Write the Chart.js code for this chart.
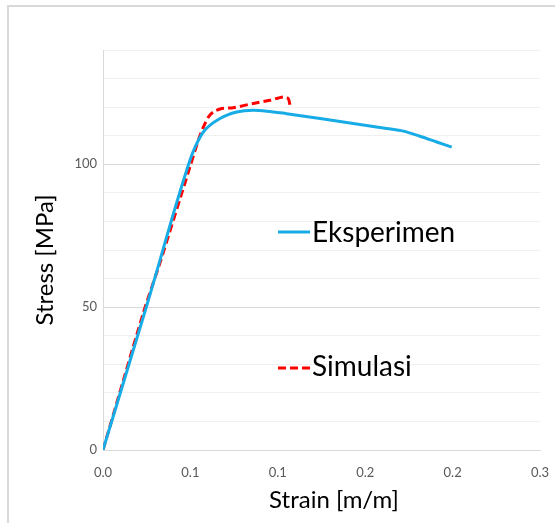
<!DOCTYPE html>
<html>
<head>
<meta charset="utf-8">
<script src="https://cdn.jsdelivr.net/npm/chart.js@4/dist/chart.umd.min.js"></script>
<style>
  html, body { margin: 0; padding: 0; background: #fff; }
  #wrap { width: 555px; height: 523px; position: relative; }
</style>
</head>
<body>
<div id="wrap"><canvas id="c" width="555" height="523"></canvas></div>
<script>
// Stress-strain curves: experiment vs. simulation
const seriesNames = ['Eksperimen', 'Simulasi'];

const eksperimenStrain = [0, 0.03, 0.0597, 0.0632, 0.0689, 0.0803, 0.0918, 0.1032, 0.1124, 0.1261, 0.149, 0.1718, 0.1948, 0.2062, 0.2176, 0.2291, 0.2394];
const eksperimenStress = [0, 50.5, 101.4, 106.0, 111.3, 116.0, 118.3, 118.9, 118.6, 117.7, 116.0, 114.3, 112.5, 111.6, 109.8, 107.8, 106.0];

const simulasiStrain = [0, 0.0277, 0.0391, 0.0597, 0.0654, 0.0689, 0.0723, 0.0757, 0.0815, 0.0895, 0.1032, 0.1146, 0.1237, 0.1272, 0.1284];
const simulasiStress = [0, 48.0, 65.5, 99.1, 108.4, 113.0, 116.5, 118.3, 119.5, 119.8, 121.3, 122.4, 123.6, 123.0, 120.6];

const strainTicks = [0, 0.06, 0.12, 0.18, 0.24, 0.3];
const strainTickLabels = ['0.0', '0.1', '0.1', '0.2', '0.2', '0.3'];
const stressLabelledTicks = [0, 50, 100];

const xTitle = 'Strain [m/m]';
const yTitle = 'Stress [MPa]';

const FONT = 'Lato, "Open Sans", sans-serif';

function toPoints(xs, ys) {
  return xs.map((x, i) => ({ x: x, y: ys[i] }));
}

// Frame, axis titles and the in-plot legend
const decorations = {
  id: 'decorations',
  afterDraw(chart, args, opts) {
    const ctx = chart.ctx;
    ctx.save();

    // outer chart frame
    ctx.strokeStyle = '#d9d9d9';
    ctx.lineWidth = 2;
    ctx.strokeRect(8, 6, 700, 700);

    // axis titles
    ctx.fillStyle = '#000';
    ctx.font = opts.titleSize + 'px ' + FONT;
    ctx.textAlign = 'center';
    ctx.textBaseline = 'middle';
    ctx.fillText(xTitle, opts.xTitleAt[0], opts.xTitleAt[1]);
    ctx.save();
    ctx.translate(opts.yTitleAt[0], opts.yTitleAt[1]);
    ctx.rotate(-Math.PI / 2);
    ctx.fillText(yTitle, 0, 0);
    ctx.restore();

    // legend entries placed inside the plot
    ctx.font = opts.legendSize + 'px ' + FONT;
    ctx.textAlign = 'left';
    ctx.textBaseline = 'alphabetic';
    chart.data.datasets.forEach((ds, i) => {
      const pos = opts.legendAt[i];
      ctx.save();
      ctx.strokeStyle = ds.borderColor;
      ctx.lineWidth = ds.borderWidth;
      ctx.setLineDash(ds.borderDash || []);
      ctx.beginPath();
      ctx.moveTo(pos.x0, pos.lineY);
      ctx.lineTo(pos.x0 + pos.len, pos.lineY);
      ctx.stroke();
      ctx.restore();
      ctx.fillStyle = '#000';
      ctx.fillText(ds.label, pos.x0 + pos.len + 2, pos.baseline);
    });

    ctx.restore();
  }
};

new Chart(document.getElementById('c'), {
  type: 'line',
  data: {
    datasets: [
      {
        label: seriesNames[0],
        data: toPoints(eksperimenStrain, eksperimenStress),
        borderColor: '#18ACE6',
        borderWidth: 3,
        pointRadius: 0,
        cubicInterpolationMode: 'monotone',
        fill: false
      },
      {
        label: seriesNames[1],
        data: toPoints(simulasiStrain, simulasiStress),
        borderColor: '#FF0000',
        borderWidth: 3,
        borderDash: [8, 4],
        pointRadius: 0,
        tension: 0.25,
        fill: false
      }
    ]
  },
  options: {
    responsive: false,
    animation: false,
    devicePixelRatio: 1,
    layout: { padding: { left: 0, right: 15, top: 50, bottom: 0 } },
    plugins: {
      legend: { display: false },
      tooltip: { enabled: false },
      decorations: {
        titleSize: 24,
        legendSize: 28,
        xTitleAt: [334, 500],
        yTitleAt: [45, 260],
        legendAt: [
          { x0: 278, len: 32, lineY: 232, baseline: 242 },
          { x0: 278, len: 32, lineY: 368, baseline: 376 }
        ]
      }
    },
    scales: {
      x: {
        type: 'linear',
        min: 0,
        max: 0.3,
        afterFit(scale) {
          scale.height = 73;
          scale.paddingLeft = 0;
          scale.paddingRight = 0;
        },
        afterBuildTicks(scale) { scale.ticks = strainTicks.map(v => ({ value: v })); },
        grid: { display: false, drawTicks: false },
        border: { display: true, color: '#d9d9d9', width: 1 },
        ticks: {
          autoSkip: false,
          maxRotation: 0,
          padding: 15,
          color: '#595959',
          font: { family: FONT, size: 13 },
          callback: (v, i) => strainTickLabels[i]
        }
      },
      y: {
        type: 'linear',
        min: 0,
        max: 140,
        afterFit(scale) {
          scale.width = 103;
          scale.paddingTop = 0;
          scale.paddingBottom = 0;
        },
        grid: {
          drawTicks: false,
          color: ctx => stressLabelledTicks.includes(ctx.tick.value) ? '#d9d9d9' : '#f0f0f0',
          lineWidth: 1
        },
        border: { display: true, color: '#d9d9d9', width: 1 },
        ticks: {
          stepSize: 10,
          autoSkip: false,
          padding: 6,
          color: '#595959',
          font: { family: FONT, size: 13 },
          callback: v => stressLabelledTicks.includes(v) ? String(v) : ''
        }
      }
    }
  },
  plugins: [decorations]
});
</script>
</body>
</html>
